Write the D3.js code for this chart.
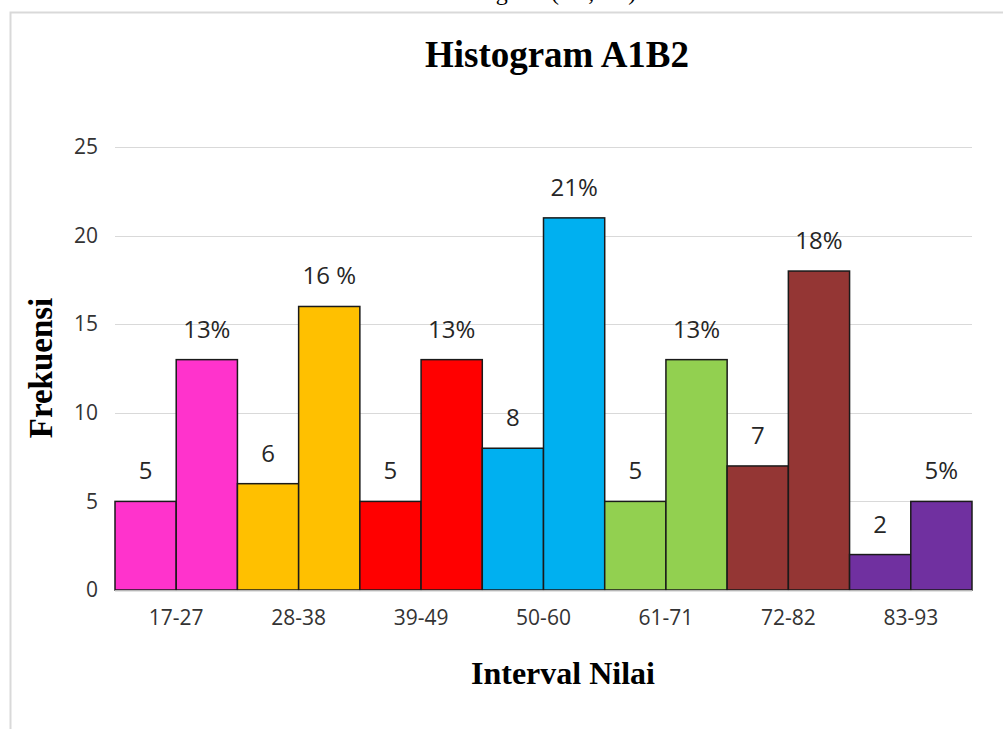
<!DOCTYPE html>
<html>
<head>
<meta charset="utf-8">
<script src="https://cdn.jsdelivr.net/npm/d3@7"></script>
<style>
  html, body { margin: 0; padding: 0; background: #fff; }
  svg { display: block; }
</style>
</head>
<body>
<svg id="chart" width="1003" height="729"></svg>
<script>
// Score intervals and their counts / percentages
const categories = ["17-27", "28-38", "39-49", "50-60", "61-71", "72-82", "83-93"];
const counts = [5, 6, 5, 8, 5, 7, 2];
const percents = [13, 16, 13, 21, 13, 18, 5];
const percentLabels = ["13%", "16 %", "13%", "21%", "13%", "18%", "5%"];
const colors = ["#FF33CC", "#FFC000", "#FF0000", "#00B0F0", "#92D050", "#943634", "#7030A0"];
const yTicks = [0, 5, 10, 15, 20, 25];

const svg = d3.select("#chart");
const W = 1003, H = 729;
const plot = { left: 115, right: 972, top: 147, bottom: 590 };
const labelFont = "'Open Sans', 'Noto Sans', sans-serif";
const serif = "'Liberation Serif', 'Times New Roman', serif";

// caption of the previous figure, running off the top of the page
svg.append("text")
  .attr("x", 540).attr("y", 0)
  .attr("text-anchor", "middle")
  .attr("font-family", serif)
  .attr("font-size", 24)
  .attr("fill", "#000")
  .text("Histogram (A1, B2)");

// chart frame
svg.append("path")
  .attr("d", `M10.5,${H} V12.5 H${W}`)
  .attr("fill", "none")
  .attr("stroke", "#d9d9d9")
  .attr("stroke-width", 2);

const x = d3.scaleBand().domain(categories).range([plot.left, plot.right]).padding(0);
const inner = d3.scaleBand().domain(["count", "pct"]).range([0, x.bandwidth()]).padding(0);
const y = d3.scaleLinear().domain([0, 25]).range([plot.bottom, plot.top]);

// gridlines
svg.append("g")
  .selectAll("line")
  .data(yTicks.filter(d => d > 0))
  .join("line")
  .attr("x1", plot.left).attr("x2", plot.right)
  .attr("y1", d => Math.round(y(d)) + 0.5).attr("y2", d => Math.round(y(d)) + 0.5)
  .attr("stroke", "#d9d9d9").attr("stroke-width", 1);

// y axis labels
const yAxis = svg.append("g")
  .attr("transform", `translate(${plot.left - 17},0)`)
  .call(d3.axisLeft(y).tickValues(yTicks).tickSize(0).tickPadding(0));
yAxis.select(".domain").remove();
yAxis.selectAll("text")
  .attr("font-family", labelFont)
  .attr("font-size", 21)
  .attr("fill", "#333");

// bars
const bars = [];
categories.forEach((c, i) => {
  bars.push({ cat: c, key: "count", value: counts[i], color: colors[i], label: String(counts[i]) });
  bars.push({ cat: c, key: "pct", value: percents[i], color: colors[i], label: percentLabels[i] });
});

svg.append("g")
  .selectAll("rect")
  .data(bars)
  .join("rect")
  .attr("x", d => x(d.cat) + inner(d.key))
  .attr("width", inner.bandwidth())
  .attr("y", d => y(d.value))
  .attr("height", d => y(0) - y(d.value))
  .attr("fill", d => d.color)
  .attr("stroke", "#1a1a1a")
  .attr("stroke-width", 1.5);

// baseline
svg.append("line")
  .attr("x1", plot.left).attr("x2", plot.right)
  .attr("y1", plot.bottom + 1).attr("y2", plot.bottom + 1)
  .attr("stroke", "#d9d9d9").attr("stroke-width", 1.5);

// value labels
svg.append("g")
  .selectAll("text")
  .data(bars)
  .join("text")
  .attr("x", d => x(d.cat) + inner(d.key) + inner.bandwidth() / 2)
  .attr("y", d => y(d.value) - 22)
  .attr("text-anchor", "middle")
  .attr("font-family", labelFont)
  .attr("font-size", 24)
  .attr("fill", "#262626")
  .text(d => d.label);

// x axis labels
const xAxis = svg.append("g")
  .attr("transform", `translate(0,${plot.bottom + 20})`)
  .call(d3.axisBottom(x).tickSize(0).tickPadding(0));
xAxis.select(".domain").remove();
xAxis.selectAll("text")
  .attr("font-family", labelFont)
  .attr("font-size", 21)
  .attr("fill", "#333");

// titles
svg.append("text")
  .attr("x", 557).attr("y", 67)
  .attr("text-anchor", "middle")
  .attr("font-family", serif)
  .attr("font-weight", "bold")
  .attr("font-size", 37)
  .attr("fill", "#000")
  .text("Histogram A1B2");

svg.append("text")
  .attr("x", 563).attr("y", 684)
  .attr("text-anchor", "middle")
  .attr("font-family", serif)
  .attr("font-weight", "bold")
  .attr("font-size", 32)
  .attr("fill", "#000")
  .text("Interval Nilai");

svg.append("text")
  .attr("transform", "translate(52,368) rotate(-90)")
  .attr("text-anchor", "middle")
  .attr("font-family", serif)
  .attr("font-weight", "bold")
  .attr("font-size", 33)
  .attr("fill", "#000")
  .text("Frekuensi");
</script>
</body>
</html>
